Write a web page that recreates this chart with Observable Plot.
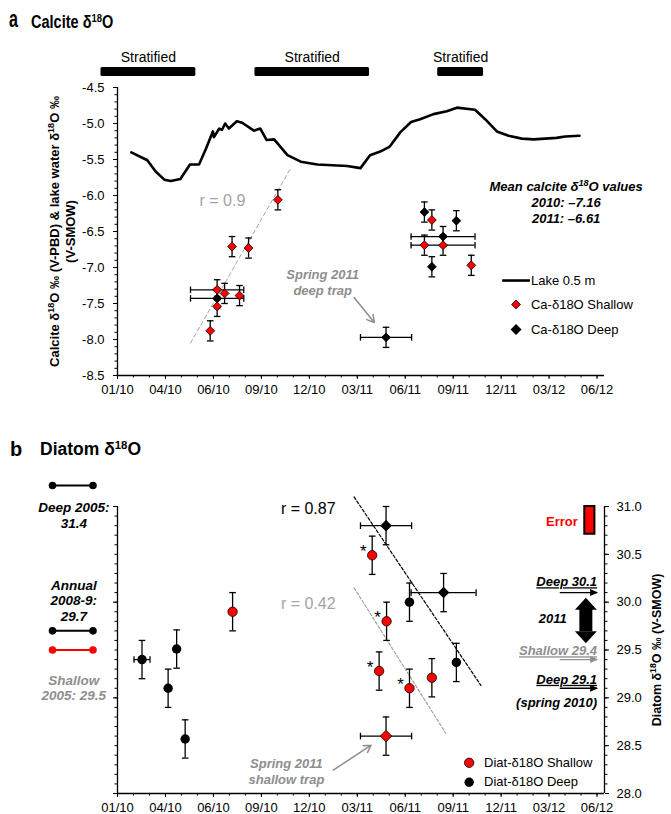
<!DOCTYPE html>
<html><head><meta charset="utf-8">
<script src="https://cdn.jsdelivr.net/npm/d3@7"></script>
<script src="https://cdn.jsdelivr.net/npm/@observablehq/plot@0.6"></script>
<style>
body{margin:0;background:#fff;font-family:'Liberation Sans',Arial,Helvetica,sans-serif;}
#wrap{position:relative;width:671px;height:814px;overflow:hidden;background:#fff;}
#panelA{position:absolute;left:0;top:0;}
#panelB{position:absolute;left:0;top:420px;}
.ttl{position:absolute;font-weight:bold;white-space:nowrap;line-height:1;transform-origin:left center;color:#000;}
.sup{font-size:65%;position:relative;top:-0.5em;}
</style></head><body>
<div id="wrap">
  <div id="panelA"></div>
  <div id="panelB"></div>
  <div class="ttl" style="left:9px;top:8px;font-size:23px;transform:scaleX(0.7)">a</div>
  <div class="ttl" style="left:31px;top:14px;font-size:17.5px;transform:scaleX(0.83)">Calcite δ<span class="sup">18</span>O</div>
  <div class="ttl" style="left:10px;top:439px;font-size:20px">b</div>
  <div class="ttl" style="left:40px;top:441px;font-size:17.5px">Diatom δ<span class="sup">18</span>O</div>
</div>
<script>
const parse = d3.utcParse("%Y-%m-%d");
const D = s => parse(s);

// ---------------- data ----------------
const X_DOMAIN = [D("2010-01-01"), D("2012-07-03")];
const xTickDates = ["2010-01-01","2010-04-01","2010-06-30","2010-09-28","2010-12-27","2011-03-27","2011-06-25","2011-09-23","2011-12-22","2012-03-21","2012-06-19"];
const xTickLabels = ["01/10","04/10","06/10","09/10","12/10","03/11","06/11","09/11","12/11","03/12","06/12"];
const yTicksA = [-8.5,-8.0,-7.5,-7.0,-6.5,-6.0,-5.5,-5.0,-4.5];
const yTicksB = [28.0,28.5,29.0,29.5,30.0,30.5,31.0];
const yMajorLeftB = [28,29,30,31];

// stratification periods
const stratified = [
  {start:"2009-12-01", end:"2010-05-28"},
  {start:"2010-09-16", end:"2011-04-19"},
  {start:"2011-08-25", end:"2011-11-19"}
];

// lake water d18O at 0.5 m
const lakeDates = ["2010-01-27","2010-02-26","2010-03-14","2010-03-30","2010-04-11","2010-04-29","2010-05-17","2010-06-03","2010-06-16","2010-06-29","2010-07-01","2010-07-11","2010-07-16","2010-07-22","2010-07-29","2010-08-13","2010-08-23","2010-09-14","2010-09-26","2010-10-08","2010-10-22","2010-11-16","2010-12-11","2011-01-11","2011-03-08","2011-04-02","2011-04-20","2011-05-09","2011-05-27","2011-06-16","2011-07-06","2011-07-23","2011-08-17","2011-09-11","2011-09-30","2011-11-03","2011-11-22","2011-12-14","2012-01-05","2012-01-30","2012-02-21","2012-04-04","2012-04-20","2012-05-17"];
const lakeValues = [-5.40,-5.51,-5.67,-5.78,-5.80,-5.77,-5.57,-5.57,-5.35,-5.11,-5.19,-5.07,-5.09,-5.00,-5.07,-4.97,-4.99,-5.10,-5.07,-5.23,-5.22,-5.44,-5.53,-5.57,-5.59,-5.62,-5.44,-5.39,-5.32,-5.12,-4.98,-4.94,-4.87,-4.83,-4.78,-4.81,-4.94,-5.11,-5.17,-5.21,-5.22,-5.20,-5.18,-5.17];

// calcite d18O (shallow / deep traps); xerr = trap deployment half-interval (days)
const caShallow = [
  {date:"2010-06-24", v:-7.88},
  {date:"2010-07-07", v:-7.31, xerr:50},
  {date:"2010-07-07", v:-7.54},
  {date:"2010-07-21", v:-7.36},
  {date:"2010-08-04", v:-6.71},
  {date:"2010-08-18", v:-7.39},
  {date:"2010-09-04", v:-6.73},
  {date:"2010-10-29", v:-6.06},
  {date:"2011-07-31", v:-6.69},
  {date:"2011-08-14", v:-6.34},
  {date:"2011-09-04", v:-6.69, xerr:60},
  {date:"2011-10-27", v:-6.97}
];
const caDeep = [
  {date:"2010-07-07", v:-7.43, xerr:50},
  {date:"2011-05-20", v:-7.97, xerr:48},
  {date:"2011-07-31", v:-6.23},
  {date:"2011-08-14", v:-6.99},
  {date:"2011-09-04", v:-6.57, xerr:60},
  {date:"2011-09-29", v:-6.35}
];
const caErr = 0.14;
const caFit = [{date:"2010-05-18", v:-8.05},{date:"2010-11-22", v:-5.62}];

// diatom d18O
const diatDeep = [
  {date:"2010-02-16", v:29.40, xerr:15},
  {date:"2010-04-06", v:29.10, xerr:7},
  {date:"2010-04-22", v:29.51},
  {date:"2010-05-08", v:28.57, xerr:7},
  {date:"2011-07-03", v:30.00, xerr:8},
  {date:"2011-09-29", v:29.37}
];
const diatDeepTrap = [
  {date:"2011-05-20", v:30.80, xerr:48},
  {date:"2011-09-05", v:30.10, xerr:61}
];
const diatShallow = [
  {date:"2010-08-05", v:29.90, star:false},
  {date:"2011-04-24", v:30.49, star:true},
  {date:"2011-05-07", v:29.28, star:true},
  {date:"2011-05-21", v:29.80, star:true},
  {date:"2011-07-03", v:29.10, star:true},
  {date:"2011-08-14", v:29.21, star:false}
];
const diatShallowTrap = [{date:"2011-05-20", v:28.60, xerr:48}];
const diatErr = 0.2;
const deepFit = [{date:"2011-03-21", v:31.10},{date:"2011-11-14", v:29.13}];
const shallowFit = [{date:"2011-03-21", v:30.15},{date:"2011-09-09", v:28.63}];

// reference values (left) and 2011 range (right)
const refLines = [{v:31.22, color:"black"},{v:29.7, color:"black"},{v:29.5, color:"#ff0000"}];
const refLabelsBlack = [{t:"Deep 2005:\n31.4", v:30.91},{t:"Annual\n2008-9:\n29.7", v:30.02}];
const refLabelsGray = [{t:"Shallow\n2005: 29.5", v:29.107}];
const rightArrows = [{v:30.1, color:"black"},{v:29.4, color:"#8e8e8e"},{v:29.1, color:"black"}];
const rightLabels = [{t:"Deep 30.1", v:30.21, color:"black"},{t:"Shallow 29.4", v:29.488, color:"#8e8e8e"},{t:"Deep 29.1", v:29.19, color:"black"},{t:"(spring 2010)", v:28.946, color:"black"}];

// ---------------- helpers ----------------
const FONT = "'Liberation Sans', Arial, Helvetica, sans-serif";
const GRAY = "#8e8e8e", LGRAY = "#a3a3a3", RED = "#ff0000";
const tbl = arr => arr.map(d => ({...d, date: parse(d.date)}));
const xTicks = xTickDates.map(D);
const xLabelOf = new Map(xTicks.map((d, i) => [+d, xTickLabels[i]]));
const xMinor = d3.range(0, 901, 30).map(i => d3.utcDay.offset(X_DOMAIN[0], i));
const yMinorA = d3.range(-85, -44).map(i => i / 10);
const yMinorB = d3.range(280, 311).map(i => i / 10);

const capH = {draw(c){ c.moveTo(-3.3,0); c.lineTo(3.3,0); }};
const capV = {draw(c){ c.moveTo(0,-3.3); c.lineTo(0,3.3); }};
const headRight = {draw(c){ c.moveTo(0,0); c.lineTo(-8,-3.5); c.lineTo(-8,3.5); c.closePath(); }};
const bigUp = {draw(c){ c.moveTo(0,0); c.lineTo(11,12); c.lineTo(-11,12); c.closePath(); }};
const bigDown = {draw(c){ c.moveTo(0,0); c.lineTo(11,-12); c.lineTo(-11,-12); c.closePath(); }};

function errorMarks(data, err, stroke = "black") {
  const withX = data.filter(d => d.xerr);
  const capped = withX.filter(d => d.xerr >= 10);
  const lo = d => d3.utcDay.offset(d.date, -d.xerr), hi = d => d3.utcDay.offset(d.date, d.xerr);
  const s = {stroke, strokeWidth: 1.3, fill: "none"};
  return [
    Plot.ruleY(withX, {y: "v", x1: lo, x2: hi, stroke, strokeWidth: 1.3}),
    Plot.dot(capped, {x: lo, y: "v", symbol: capV, ...s}),
    Plot.dot(capped, {x: hi, y: "v", symbol: capV, ...s}),
    Plot.ruleX(data, {x: "date", y1: d => d.v - err, y2: d => d.v + err, stroke, strokeWidth: 1.3}),
    Plot.dot(data, {x: "date", y: d => d.v - err, symbol: capH, ...s}),
    Plot.dot(data, {x: "date", y: d => d.v + err, symbol: capH, ...s})
  ];
}
const style = {fontFamily: FONT, fontSize: "13px", overflow: "visible", background: "transparent", color: "black"};
const bi = {fontWeight: "bold", fontStyle: "italic"};

const stratTbl = stratified.map(d => ({start: D(d.start), end: D(d.end)}));
const lakeTbl = lakeDates.map((d, i) => ({date: D(d), v: lakeValues[i]}));
const caShallowTbl = tbl(caShallow), caDeepTbl = tbl(caDeep), caFitTbl = tbl(caFit);
const dDeepTbl = tbl(diatDeep), dDeepTrapTbl = tbl(diatDeepTrap), dShallowTbl = tbl(diatShallow), dShallowTrapTbl = tbl(diatShallowTrap);
const deepFitTbl = tbl(deepFit), shallowFitTbl = tbl(shallowFit);

// ---------------- panel a ----------------
const plotA = Plot.plot({
  width: 671, height: 420, marginLeft: 117, marginRight: 67, marginTop: 87, marginBottom: 45,
  style,
  x: {type: "utc", domain: X_DOMAIN},
  y: {domain: [-8.5, -4.5]},
  marks: [
    Plot.rect(stratTbl, {x1: "start", x2: "end", fill: "black", insetTop: -20, insetBottom: 299, rx: 1.5}),
    Plot.text(stratTbl, {x: d => new Date((+d.start + +d.end) / 2), frameAnchor: "top", dy: -35, text: () => "Stratified", fontSize: 14}),
    Plot.axisY({ticks: yMinorA, tickSize: 2.5, tickFormat: () => "", anchor: "left", label: null}),
    Plot.axisY({ticks: yTicksA, tickSize: 4, tickPadding: 9, tickFormat: d => d.toFixed(1), anchor: "left", label: null, fontSize: 13}),
    Plot.axisX({ticks: xMinor, tickSize: 2.5, tickFormat: () => "", anchor: "bottom", label: null}),
    Plot.axisX({ticks: xTicks, tickSize: 4, tickPadding: 5, tickFormat: d => xLabelOf.get(+d), anchor: "bottom", label: null, fontSize: 13}),
    Plot.ruleX([X_DOMAIN[0]], {strokeWidth: 1.3}),
    Plot.ruleY([-8.5], {strokeWidth: 1.3}),
    Plot.text(["Calcite δ^18O ‰ (V-PBD) & lake water δ^18O ‰\n(V-SMOW)"], {frameAnchor: "left", dx: -55.7, rotate: -90, textAnchor: "middle", lineAnchor: "middle", text: d => d, fontWeight: "bold", fontSize: 13, lineHeight: 1.22}),
    Plot.line(lakeTbl, {x: "date", y: "v", stroke: "black", strokeWidth: 2.6, strokeLinejoin: "round"}),
    Plot.line(caFitTbl, {x: "date", y: "v", stroke: LGRAY, strokeWidth: 1, strokeDasharray: "4,3"}),
    ...errorMarks(caDeepTbl, caErr),
    ...errorMarks(caShallowTbl, caErr),
    Plot.dot(caDeepTbl, {x: "date", y: "v", symbol: "diamond2", r: 4, fill: "black", stroke: "black", strokeWidth: 0.8}),
    Plot.dot(caShallowTbl, {x: "date", y: "v", symbol: "diamond2", r: 4, fill: RED, stroke: "black", strokeWidth: 0.8}),
    // annotations
    Plot.text([{date: D("2010-07-17"), v: -6.07, t: "r = 0.9"}], {x: "date", y: "v", text: "t", fill: LGRAY, fontSize: 16}),
    Plot.text([{date: D("2011-01-21"), v: -7.194, t: "Spring 2011\ndeep trap"}], {x: "date", y: "v", text: "t", fill: GRAY, fontSize: 13, lineHeight: 1.23, ...bi}),
    Plot.arrow([{x1: D("2011-03-21"), y1: -7.417, x2: D("2011-04-28"), y2: -7.764}], {x1: "x1", y1: "y1", x2: "x2", y2: "y2", stroke: GRAY, strokeWidth: 1.5, headLength: 8}),
    Plot.text([{date: D("2012-04-22"), v: -6.083, t: "Mean calcite δ^18O values\n2010: –7.16\n2011: –6.61"}], {x: "date", y: "v", text: "t", fontSize: 13, lineHeight: 1.23, ...bi}),
    // legend
    Plot.link([{x1: D("2011-12-24"), x2: D("2012-02-14"), v: -7.181}], {x1: "x1", x2: "x2", y1: "v", y2: "v", stroke: "black", strokeWidth: 2.6}),
    Plot.dot([{date: D("2012-01-19"), v: -7.514}], {x: "date", y: "v", symbol: "diamond2", r: 4, fill: RED, stroke: "black", strokeWidth: 0.8}),
    Plot.dot([{date: D("2012-01-19"), v: -7.861}], {x: "date", y: "v", symbol: "diamond2", r: 4, fill: "black", stroke: "black"}),
    Plot.text([{v: -7.181, t: "Lake 0.5 m"}, {v: -7.514, t: "Ca-δ18O Shallow"}, {v: -7.861, t: "Ca-δ18O Deep"}], {x: () => D("2012-02-16"), y: "v", text: "t", textAnchor: "start", fontSize: 13})
  ]
});

// ---------------- panel b ----------------
const plotB = Plot.plot({
  width: 671, height: 394, marginLeft: 117, marginRight: 67, marginTop: 86, marginBottom: 21,
  style,
  x: {type: "utc", domain: X_DOMAIN},
  y: {domain: [28, 31]},
  marks: [
    Plot.axisY({ticks: yMinorB, tickSize: 2.5, tickFormat: () => "", anchor: "left", label: null}),
    Plot.axisY({ticks: yMajorLeftB, tickSize: 4, tickFormat: () => "", anchor: "left", label: null}),
    Plot.axisY({ticks: yMinorB, tickSize: 2.5, tickFormat: () => "", anchor: "right", label: null}),
    Plot.axisY({ticks: yTicksB, tickSize: 4, tickPadding: 8, tickFormat: d => d.toFixed(1), anchor: "right", label: null, fontSize: 13}),
    Plot.axisX({ticks: xMinor, tickSize: 2.5, tickFormat: () => "", anchor: "bottom", label: null}),
    Plot.axisX({ticks: xTicks, tickSize: 4, tickPadding: 5, tickFormat: d => xLabelOf.get(+d), anchor: "bottom", label: null, fontSize: 13}),
    Plot.ruleX([X_DOMAIN[0], X_DOMAIN[1]], {strokeWidth: 1.3}),
    Plot.ruleY([28], {strokeWidth: 1.3}),
    Plot.text(["Diatom δ^18O ‰ (V-SMOW)"], {frameAnchor: "right", dx: 52.5, rotate: -90, textAnchor: "middle", lineAnchor: "middle", text: d => d, fontWeight: "bold", fontSize: 12.5}),
    Plot.line(deepFitTbl, {x: "date", y: "v", stroke: "black", strokeWidth: 1.2, strokeDasharray: "3,2"}),
    Plot.line(shallowFitTbl, {x: "date", y: "v", stroke: LGRAY, strokeWidth: 1.2, strokeDasharray: "3,2"}),
    ...errorMarks(dDeepTbl, diatErr),
    ...errorMarks(dDeepTrapTbl, diatErr),
    ...errorMarks(dShallowTbl, diatErr),
    ...errorMarks(dShallowTrapTbl, diatErr),
    Plot.dot(dDeepTbl, {x: "date", y: "v", r: 4.7, fill: "black"}),
    Plot.dot(dDeepTrapTbl, {x: "date", y: "v", symbol: "diamond2", r: 5.2, fill: "black"}),
    Plot.dot(dShallowTbl, {x: "date", y: "v", r: 4.7, fill: RED, stroke: "black", strokeWidth: 0.8}),
    Plot.dot(dShallowTrapTbl, {x: "date", y: "v", symbol: "diamond2", r: 5.2, fill: RED, stroke: "black", strokeWidth: 0.8}),
    Plot.text(dShallowTbl.filter(d => d.star), {x: "date", y: "v", text: () => "*", dx: -9, dy: -3.6, fontSize: 17}),
    // r values
    Plot.text([{date: D("2010-12-25"), v: 30.976, t: "r = 0.87"}], {x: "date", y: "v", text: "t", fontSize: 16}),
    Plot.text([{date: D("2010-12-25"), v: 29.98, t: "r = 0.42"}], {x: "date", y: "v", text: "t", fill: LGRAY, fontSize: 16}),
    // error box
    Plot.rect([{x1: D("2012-05-27"), x2: D("2012-06-15"), y1: 30.71, y2: 31.0}], {x1: "x1", x2: "x2", y1: "y1", y2: "y2", fill: RED, stroke: "black", strokeWidth: 2}),
    Plot.text([{date: D("2012-05-14"), v: 30.84, t: "Error"}], {x: "date", y: "v", text: "t", textAnchor: "end", fill: RED, fontWeight: "bold", fontSize: 13}),
    // left reference values
    Plot.link(refLines.filter(d => d.color === "black"), {x1: () => D("2009-09-01"), x2: () => D("2009-11-16"), y1: "v", y2: "v", stroke: "black", strokeWidth: 2}),
    Plot.link(refLines.filter(d => d.color !== "black"), {x1: () => D("2009-09-01"), x2: () => D("2009-11-16"), y1: "v", y2: "v", stroke: RED, strokeWidth: 2}),
    Plot.dot(refLines.filter(d => d.color === "black"), {x: () => D("2009-09-01"), y: "v", r: 3.8, fill: "black"}),
    Plot.dot(refLines.filter(d => d.color === "black"), {x: () => D("2009-11-16"), y: "v", r: 3.8, fill: "black"}),
    Plot.dot(refLines.filter(d => d.color !== "black"), {x: () => D("2009-09-01"), y: "v", r: 3.8, fill: RED}),
    Plot.dot(refLines.filter(d => d.color !== "black"), {x: () => D("2009-11-16"), y: "v", r: 3.8, fill: RED}),
    Plot.text(refLabelsBlack, {x: () => D("2009-10-11"), y: "v", text: "t", fontSize: 13.5, lineHeight: 1.15, ...bi}),
    Plot.text(refLabelsGray, {x: () => D("2009-10-11"), y: "v", text: "t", fill: GRAY, fontSize: 13.5, lineHeight: 1.15, ...bi}),
    // right annotations
    Plot.link(rightArrows.filter(d => d.color === "black"), {x1: () => D("2012-04-10"), x2: () => D("2012-06-19"), y1: "v", y2: "v", stroke: "black", strokeWidth: 1.3}),
    Plot.link(rightArrows.filter(d => d.color !== "black"), {x1: () => D("2012-04-10"), x2: () => D("2012-06-19"), y1: "v", y2: "v", stroke: GRAY, strokeWidth: 1.3}),
    Plot.dot(rightArrows.filter(d => d.color === "black"), {x: () => D("2012-06-21"), y: "v", symbol: headRight, fill: "black"}),
    Plot.dot(rightArrows.filter(d => d.color !== "black"), {x: () => D("2012-06-21"), y: "v", symbol: headRight, fill: GRAY}),
    Plot.text(rightLabels.filter(d => d.color === "black"), {x: () => D("2012-06-19"), y: "v", text: "t", textAnchor: "end", fontSize: 13, ...bi}),
    Plot.text(rightLabels.filter(d => d.color !== "black"), {x: () => D("2012-06-19"), y: "v", text: "t", textAnchor: "end", fill: GRAY, fontSize: 13, ...bi}),
    Plot.text([{date: D("2012-03-28"), v: 29.83, t: "2011"}], {x: "date", y: "v", text: "t", fontSize: 13, ...bi}),
    Plot.ruleX([D("2012-05-29")], {y1: 29.69, y2: 29.93, stroke: "black", strokeWidth: 13}),
    Plot.dot([{date: D("2012-05-29"), v: 30.046}], {x: "date", y: "v", symbol: bigUp, fill: "black"}),
    Plot.dot([{date: D("2012-05-29"), v: 29.571}], {x: "date", y: "v", symbol: bigDown, fill: "black"}),
    // shallow trap note
    Plot.text([{date: D("2010-11-14"), v: 28.234, t: "Spring 2011\nshallow trap"}], {x: "date", y: "v", text: "t", fill: GRAY, fontSize: 13, lineHeight: 1.23, ...bi}),
    Plot.arrow([{x1: D("2011-02-10"), y1: 28.244, x2: D("2011-04-22"), y2: 28.505}], {x1: "x1", y1: "y1", x2: "x2", y2: "y2", stroke: GRAY, strokeWidth: 1.5, headLength: 8}),
    // legend
    Plot.dot([{date: D("2011-10-23"), v: 28.321}], {x: "date", y: "v", r: 4.7, fill: RED, stroke: "black", strokeWidth: 0.8}),
    Plot.dot([{date: D("2011-10-23"), v: 28.118}], {x: "date", y: "v", r: 4.7, fill: "black"}),
    Plot.text([{v: 28.321, t: "Diat-δ18O Shallow"}, {v: 28.118, t: "Diat-δ18O Deep"}], {x: () => D("2011-11-20"), y: "v", text: "t", textAnchor: "start", fontSize: 13})
  ]
});

// superscript "^18" and underline selected labels
function supify(root) {
  const ns = "http://www.w3.org/2000/svg";
  const walker = document.createTreeWalker(root, NodeFilter.SHOW_TEXT);
  const nodes = [];
  while (walker.nextNode()) if (walker.currentNode.nodeValue.includes("^18")) nodes.push(walker.currentNode);
  for (const n of nodes) {
    const parts = n.nodeValue.split("^18");
    const parent = n.parentNode;
    parts.forEach((p, i) => {
      if (i > 0) {
        const t = document.createElementNS(ns, "tspan");
        t.setAttribute("baseline-shift", "super");
        t.setAttribute("font-size", "70%");
        t.textContent = "18";
        parent.insertBefore(t, n);
      }
      if (p) parent.insertBefore(document.createTextNode(p), n);
    });
    parent.removeChild(n);
  }
}
for (const p of [plotA, plotB]) {
  supify(p);
  p.querySelectorAll("text").forEach(t => {
    if (["Deep 30.1", "Shallow 29.4", "Deep 29.1"].includes(t.textContent)) t.style.textDecoration = "underline";
  });
}
document.getElementById("panelA").appendChild(plotA);
document.getElementById("panelB").appendChild(plotB);
</script>
</body></html>
